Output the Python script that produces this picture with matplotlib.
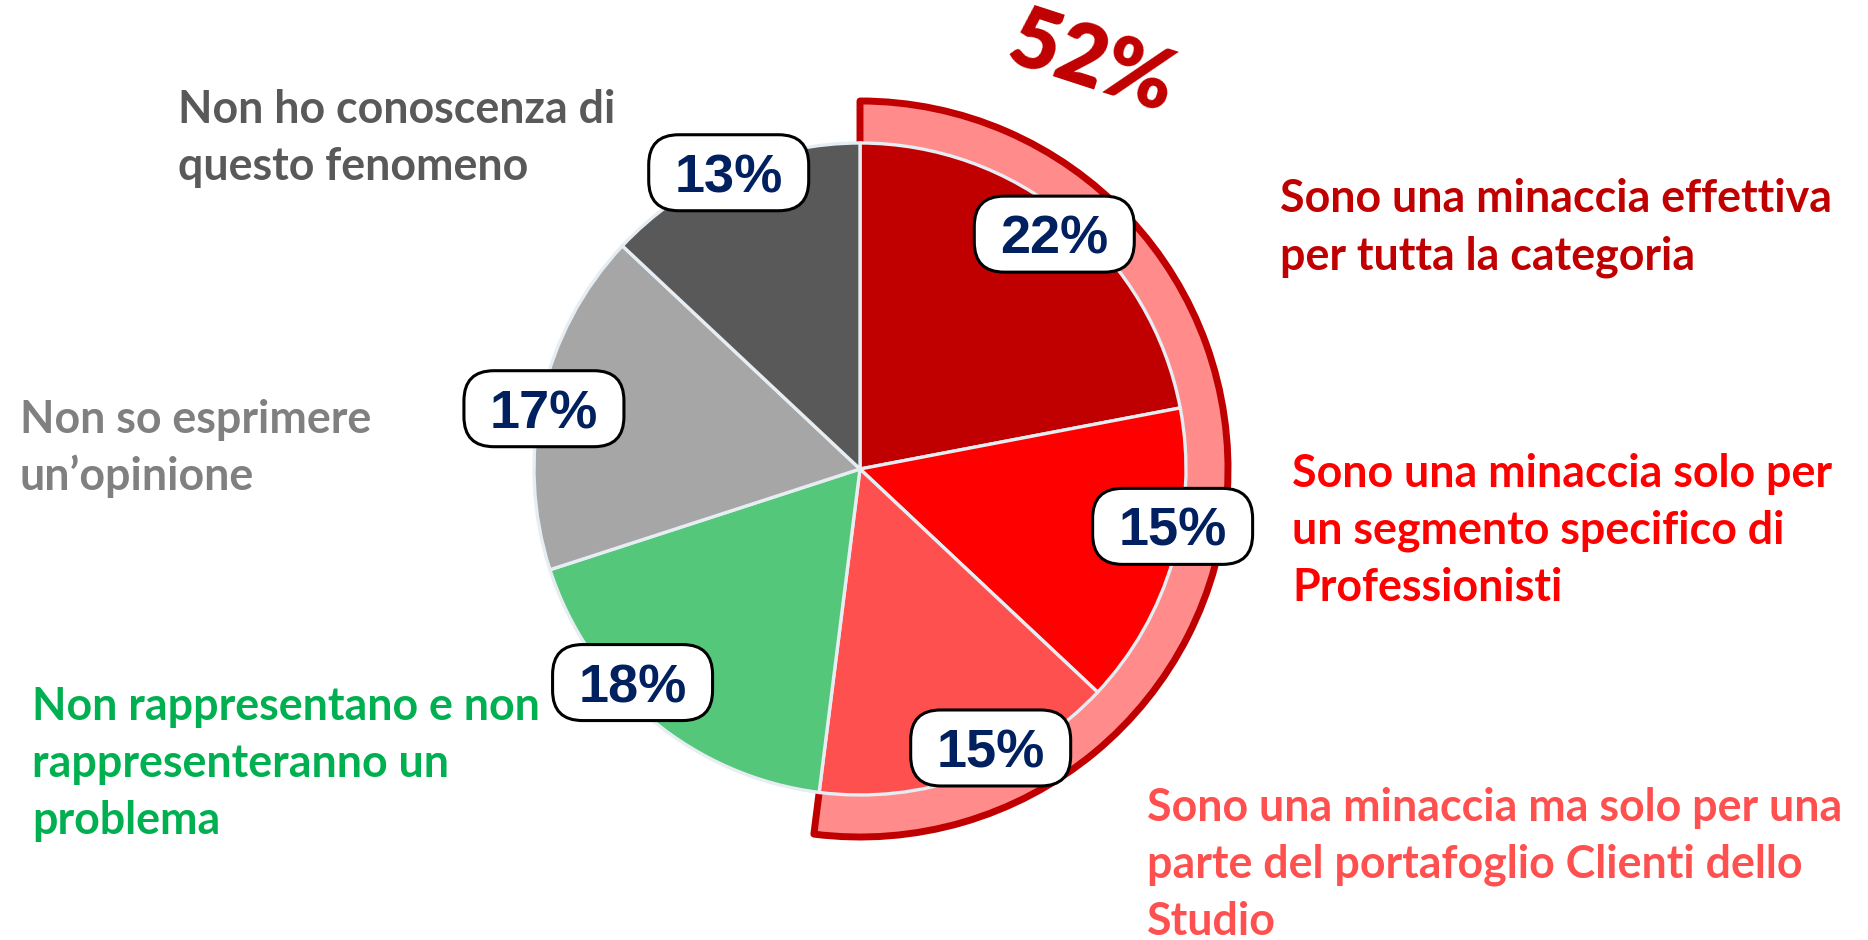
import numpy as np
import matplotlib
matplotlib.use("Agg")
import matplotlib.pyplot as plt
from matplotlib.patches import Wedge, FancyBboxPatch

# ---- data -------------------------------------------------------------
categories = [
    "Sono una minaccia effettiva\nper tutta la categoria",
    "Sono una minaccia solo per\nun segmento specifico di\nProfessionisti",
    "Sono una minaccia ma solo per una\nparte del portafoglio Clienti dello\nStudio",
    "Non rappresentano e non\nrappresenteranno un\nproblema",
    "Non so esprimere\nun\u2019opinione",
    "Non ho conoscenza di\nquesto fenomeno",
]
values = [22, 15, 15, 18, 17, 13]
value_labels = ["22%", "15%", "15%", "18%", "17%", "13%"]
threat_total = 52
threat_label = "52%"

# ---- style ------------------------------------------------------------
slice_colors = ["#C00000", "#FF0000", "#FF5050", "#55C77A", "#A6A6A6", "#595959"]
text_colors = ["#C00000", "#FF0000", "#FF5050", "#00B050", "#808080", "#595959"]
band_fill = "#FF8B8B"
band_edge = "#C00000"
navy = "#002060"
sep_color = "#E6EEF4"

W, H = 1868, 940
cx, cy = 860, H - 469
R = 326
R_band = 368

# label tweaks (angle shift in degrees, radius factor)
lab_shift = [0.0, -5.8, -5.3, 7.2, -1.8, -0.5]
lab_rad = [0.935, 0.975, 0.945, 0.957, 0.987, 0.994]

# text blocks: left x, first baseline (from top)
text_pos = [(1280, 212), (1292, 487), (1147, 821), (32, 720), (20, 433), (178, 123)]
line_step = 57

text_font = "Lato"
label_font = "Liberation Sans"

fig = plt.figure(figsize=(W / 100, H / 100), dpi=100)
ax = fig.add_axes([0, 0, 1, 1])

# outer band marking the share of "threat" answers
span = 360 * threat_total / 100
band = Wedge((cx, cy), R_band, 90 - span, 90, facecolor=band_fill,
             edgecolor=band_edge, linewidth=5, joinstyle="round", zorder=0.5)
ax.add_patch(band)

wedges, _ = ax.pie(values, colors=slice_colors, startangle=90, counterclock=False,
                   radius=R, center=(cx, cy), frame=True,
                   wedgeprops=dict(edgecolor=sep_color, linewidth=2.4))

ax.set_xlim(0, W)
ax.set_ylim(0, H)
ax.set_aspect("equal")
ax.axis("off")

# value boxes
cum = np.cumsum([0] + values[:-1])
bw, bh = 160, 76
for i, v in enumerate(values):
    mid = (cum[i] + v / 2) / 100 * 360 + lab_shift[i]
    ang = np.deg2rad(90 - mid)
    lx = cx + R * lab_rad[i] * np.cos(ang)
    ly = cy + R * lab_rad[i] * np.sin(ang)
    box = FancyBboxPatch((lx - bw / 2, ly - bh / 2), bw, bh,
                         boxstyle="round,pad=0,rounding_size=30",
                         facecolor="white", edgecolor="black", linewidth=2.2, zorder=5)
    ax.add_patch(box)
    ax.text(lx, ly - 19.5, value_labels[i], ha="center", va="baseline",
            fontsize=39, fontweight="bold", color=navy, family=label_font, zorder=6)

# category texts
for i, txt in enumerate(categories):
    x0, y0 = text_pos[i]
    for k, line in enumerate(txt.split("\n")):
        ax.text(x0, H - (y0 + k * line_step), line, ha="left", va="baseline",
                fontsize=32.2, fontweight="bold", color=text_colors[i], family=text_font)

# total share above the band
ax.text(1092, H - 64, threat_label, ha="center", va="center", rotation=-18,
        fontsize=61, fontweight="heavy", color=band_edge, family=text_font)

fig.savefig("out.png", dpi=100)
